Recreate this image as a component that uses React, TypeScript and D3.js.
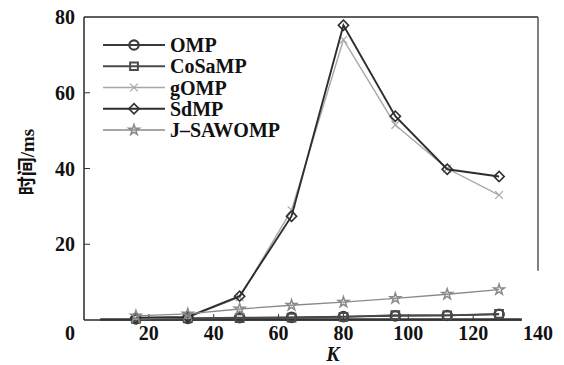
import React from "react";
import * as d3 from "d3";

// Sparsity levels and running time (ms) of each reconstruction algorithm
const kValues = [16, 32, 48, 64, 80, 96, 112, 128];
const ompTime = [0.3, 0.4, 0.6, 0.7, 0.9, 1.1, 1.2, 1.5];
const cosampTime = [0.3, 0.4, 0.5, 0.6, 0.8, 1.3, 1.2, 1.6];
const gompTime = [0.3, 0.7, 6.0, 29, 74, 51.5, 40, 33];
const sdmpTime = [0.6, 0.8, 6.3, 27.4, 77.8, 53.8, 39.8, 37.9];
const jsawompTime = [1.1, 1.6, 2.9, 3.9, 4.7, 5.7, 6.8, 8.0];

const seriesNames = ["OMP", "CoSaMP", "gOMP", "SdMP", "J\u2013SAWOMP"];
const xTicks = [0, 20, 40, 60, 80, 100, 120, 140];
const yTicks = [20, 40, 60, 80];

type MarkerKind = "circle" | "square" | "cross" | "diamond" | "star";

const series = [
  { name: seriesNames[0], values: ompTime, color: "#3a3a3a", width: 1.8, marker: "circle" as MarkerKind },
  { name: seriesNames[1], values: cosampTime, color: "#4a4a4a", width: 1.8, marker: "square" as MarkerKind },
  { name: seriesNames[2], values: gompTime, color: "#a8a8a8", width: 1.4, marker: "cross" as MarkerKind },
  { name: seriesNames[3], values: sdmpTime, color: "#2e2e2e", width: 1.9, marker: "diamond" as MarkerKind },
  { name: seriesNames[4], values: jsawompTime, color: "#8a8a8a", width: 1.3, marker: "star" as MarkerKind },
];

const W = 564;
const H = 365;
const x = d3.scaleLinear().domain([0, 140]).range([84, 538]);
const y = d3.scaleLinear().domain([0, 80]).range([320, 17]);

// the diamond is a square turned by 45 degrees
const symbolFor: Record<MarkerKind, d3.SymbolType> = {
  circle: d3.symbolCircle,
  square: d3.symbolSquare,
  cross: (d3 as any).symbolTimes || (d3 as any).symbolX || d3.symbolCross,
  diamond: d3.symbolSquare,
  star: d3.symbolStar,
};
const sizeFor: Record<MarkerKind, number> = {
  circle: 70,
  square: 60,
  cross: 40,
  diamond: 52,
  star: 34,
};
const strokeFor: Record<MarkerKind, number> = {
  circle: 2.2,
  square: 2.0,
  cross: 1.2,
  diamond: 1.6,
  star: 1.5,
};

function Marker({ kind, cx, cy, color }: { kind: MarkerKind; cx: number; cy: number; color: string }) {
  const path = d3.symbol().type(symbolFor[kind]).size(sizeFor[kind])() || "";
  const rot = kind === "diamond" ? " rotate(45)" : "";
  return (
    <path
      d={path}
      transform={`translate(${cx},${cy})${rot}`}
      fill="none"
      stroke={color}
      strokeWidth={strokeFor[kind]}
    />
  );
}

const serif = "'Liberation Serif', 'Times New Roman', 'Noto Sans CJK SC', serif";

export default function App() {
  const line = d3
    .line<number>()
    .x((_, i) => x(kValues[i]))
    .y((v) => y(v));

  const legendY = d3.scaleLinear().domain([0, 4]).range([45, 130]);

  return (
    <div style={{ position: "fixed", left: 0, top: 0 }}>
      <svg width={W} height={H} style={{ display: "block", background: "#fff" }}>
        {/* frame */}
        <line x1={x(0)} x2={x(0)} y1={y(80)} y2={y(0)} stroke="#2a2a2a" strokeWidth={1.5} />
        <line x1={x(0)} x2={x(140)} y1={y(80)} y2={y(80)} stroke="#2a2a2a" strokeWidth={1.5} />
        <line x1={x(140)} x2={x(140)} y1={y(80)} y2={y(13)} stroke="#555" strokeWidth={1.5} />
        <line x1={x(0)} x2={x(135)} y1={y(0)} y2={y(0)} stroke="#2a2a2a" strokeWidth={1.5} />
        <line x1={x(5)} x2={x(135)} y1={y(0) - 0.5} y2={y(0) - 0.5} stroke="#333" strokeWidth={2.5} />

        {/* y ticks and labels */}
        {yTicks.map((t) => (
          <g key={`y${t}`}>
            {t < 80 && <line x1={x(0)} x2={x(0) + 6} y1={y(t)} y2={y(t)} stroke="#333" strokeWidth={1} />}
            <text
              x={75}
              y={y(t)}
              dy="0.35em"
              textAnchor="end"
              fontFamily={serif}
              fontWeight="bold"
              fontSize={20}
              fill="#111"
            >
              {t}
            </text>
          </g>
        ))}

        {/* x ticks and labels */}
        {xTicks.map((t) => (
          <g key={`x${t}`}>
            {t > 0 && t < 140 && (
              <line x1={x(t)} x2={x(t)} y1={y(0)} y2={y(0) - 6} stroke="#333" strokeWidth={1} />
            )}
            <text
              x={t === 0 ? 70 : x(t)}
              y={340}
              textAnchor="middle"
              fontFamily={serif}
              fontWeight="bold"
              fontSize={20}
              fill="#111"
            >
              {t}
            </text>
          </g>
        ))}

        {/* axis titles */}
        <text
          x={333}
          y={361}
          textAnchor="middle"
          fontFamily={serif}
          fontWeight="bold"
          fontStyle="italic"
          fontSize={20}
          fill="#111"
        >
          K
        </text>
        <text
          transform={`translate(34,162) rotate(-90)`}
          textAnchor="middle"
          fontFamily={serif}
          fontWeight="bold"
          fontSize={19}
          fill="#111"
        >
          时间/ms
        </text>

        {/* series */}
        {series.map((s) => (
          <g key={s.name}>
            <path d={line(s.values) || ""} fill="none" stroke={s.color} strokeWidth={s.width} />
            {s.values.map((v, i) => (
              <Marker key={i} kind={s.marker} cx={x(kValues[i])} cy={y(v)} color={s.color} />
            ))}
          </g>
        ))}

        {/* legend */}
        {series.map((s, i) => (
          <g key={`lg${s.name}`}>
            <line x1={103} x2={165} y1={legendY(i)} y2={legendY(i)} stroke={s.color} strokeWidth={s.width} />
            <Marker kind={s.marker} cx={134} cy={legendY(i)} color={s.color} />
            <text
              x={170}
              y={legendY(i)}
              dy="0.35em"
              fontFamily={serif}
              fontWeight="bold"
              fontSize={20}
              fill="#111"
            >
              {s.name}
            </text>
          </g>
        ))}
      </svg>
    </div>
  );
}
